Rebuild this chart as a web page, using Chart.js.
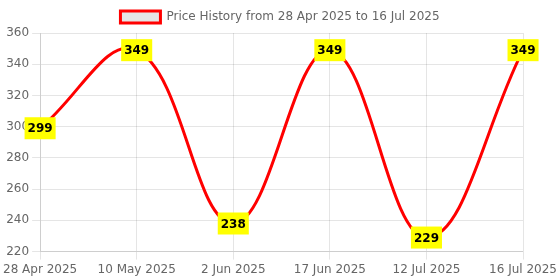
<!DOCTYPE html>
<html>
<head>
<meta charset="utf-8">
<script src="https://cdn.jsdelivr.net/npm/chart.js@4"></script>
<style>
    html, body { margin: 0; padding: 0; background: #fff; }
    #wrap { width: 560px; height: 280px; }
</style>
</head>
<body>
<div id="wrap"><canvas id="price-chart"></canvas></div>
<script>
// Price history data
const dateLabels = ['28 Apr 2025', '10 May 2025', '2 Jun 2025', '17 Jun 2025', '12 Jul 2025', '16 Jul 2025'];
const priceValues = [299, 349, 238, 349, 229, 349];
const yTicks = [220, 240, 260, 280, 300, 320, 340, 360];

Chart.defaults.font.family = "'DejaVu Sans', sans-serif";
Chart.defaults.font.size = 12;
Chart.defaults.color = '#666';

// Yellow value labels drawn on each point
const valueLabels = {
    id: 'valueLabels',
    afterDatasetsDraw(chart) {
        const ctx = chart.ctx;
        const meta = chart.getDatasetMeta(0);
        ctx.save();
        ctx.font = "bold 12px 'DejaVu Sans', sans-serif";
        ctx.textAlign = 'center';
        ctx.textBaseline = 'middle';
        meta.data.forEach((pt, i) => {
            const txt = String(chart.data.datasets[0].data[i]);
            const w = ctx.measureText(txt).width + 6;
            const h = 22;
            ctx.fillStyle = '#ffff00';
            ctx.fillRect(pt.x - w / 2, pt.y - h / 2, w, h);
            ctx.fillStyle = '#000';
            ctx.fillText(txt, pt.x, pt.y + 1);
        });
        ctx.restore();
    }
};

new Chart(document.getElementById('price-chart'), {
    type: 'line',
    data: {
        labels: dateLabels,
        datasets: [{
            label: 'Price History from 28 Apr 2025 to 16 Jul 2025',
            data: priceValues,
            borderColor: '#ff0000',
            backgroundColor: 'rgba(0,0,0,0.1)',
            borderWidth: 3,
            tension: 0.4,
            pointRadius: 0,
            fill: false
        }]
    },
    options: {
        responsive: true,
        maintainAspectRatio: false,
        animation: false,
        layout: { padding: { top: 1 } },
        plugins: {
            legend: { display: true },
            tooltip: { enabled: false }
        },
        scales: {
            x: {
                grid: { color: 'rgba(0,0,0,0.1)' },
                ticks: { maxRotation: 0, autoSkip: false }
            },
            y: {
                min: yTicks[0],
                max: yTicks[yTicks.length - 1],
                afterBuildTicks: axis => { axis.ticks = yTicks.map(v => ({ value: v })); },
                grid: { color: 'rgba(0,0,0,0.1)' }
            }
        }
    },
    plugins: [valueLabels]
});
</script>
</body>
</html>
